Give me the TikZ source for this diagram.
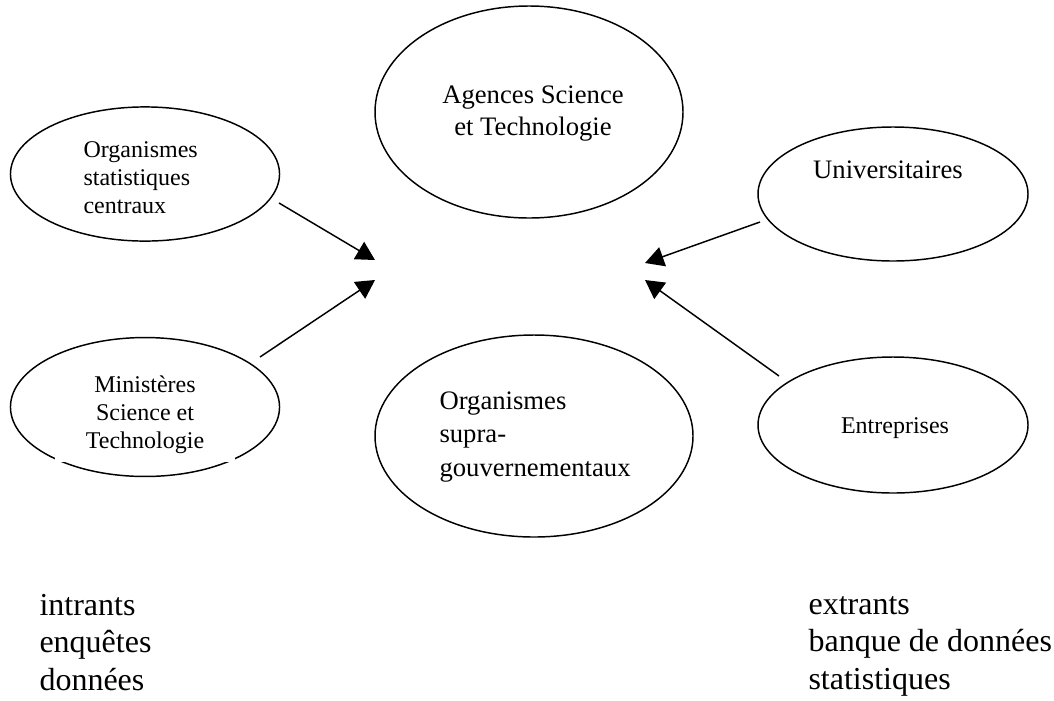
\documentclass[tikz,border=0pt]{standalone}
\usepackage{fontspec}
\setmainfont{Liberation Serif}
\usetikzlibrary{arrows.meta,calc,shapes.geometric}

\begin{document}
\begin{tikzpicture}[x=0.375pt,y=-0.375pt,
  bulle/.style={draw,ellipse,line width=0.55pt,inner sep=0pt},
  fleche/.style={line width=0.55pt,-{Triangle[length=7pt,width=7.5pt]}},
  petit/.style={font=\fontsize{9}{10.5}\selectfont,inner sep=0pt},
  moyen/.style={font=\fontsize{10}{12}\selectfont,inner sep=0pt},
  grand/.style={font=\fontsize{12}{13.9}\selectfont,inner sep=0pt}]
  \useasboundingbox (0,0) rectangle (1054,700);
  % les bulles
  \node[bulle,minimum width=100.9pt,minimum height=50.3pt] (stat) at (145,174) {};
  \node[bulle,minimum width=100.9pt,minimum height=52.1pt] (mini) at (145,407) {};
  \node[bulle,minimum width=115.5pt,minimum height=79.5pt] (agences) at (529,112) {};
  \node[bulle,minimum width=119.25pt,minimum height=75.75pt] (supra) at (534,436) {};
  \node[bulle,minimum width=101.25pt,minimum height=50.25pt] (univ) at (893,194) {};
  \node[bulle,minimum width=101.25pt,minimum height=51pt] (entr) at (893,425) {};
  % les textes (ancre sur la derniere ligne)
  \node[petit,anchor=base west,align=left] (tstat) at (83,213) {Organismes\\statistiques\\centraux};
  \node[petit,anchor=base,align=center,fill=white,minimum width=67.5pt,
    text depth=5.25pt] (tmini) at (145,448) {Minist\`eres\\Science et\\Technologie};
  \node[moyen,anchor=base,align=center] (tagences) at (533,135) {Agences Science\\et Technologie};
  \node[moyen,anchor=base west,align=left,font=\fontsize{10}{12.4}\selectfont] (tsupra) at (439,476) {Organismes\\supra-\\gouvernementaux};
  \node[moyen,anchor=base] (tuniv) at (888,178) {Universitaires};
  \node[petit,anchor=base] (tentr) at (895,433) {Entreprises};
  \node[grand,anchor=base west,align=left] (intrants) at (39,690) {intrants\\enqu\^etes\\donn\'ees};
  \node[grand,anchor=base west,align=left] (extrants) at (808,689) {extrants\\banque de donn\'ees\\statistiques};
  % les fleches
  \coordinate (pg1) at (375,260);
  \coordinate (pg2) at (375,280);
  \coordinate (pd1) at (645,263);
  \coordinate (pd2) at (645,280);
  \draw[fleche] ($(stat.center)+(134,29)$) -- (pg1);
  \draw[fleche] ($(mini.center)+(115,-50)$) -- (pg2);
  \draw[fleche] ($(univ.center)+(-133,28)$) -- (pd1);
  \draw[fleche] ($(entr.center)+(-114,-49)$) -- (pd2);
\end{tikzpicture}
\end{document}
